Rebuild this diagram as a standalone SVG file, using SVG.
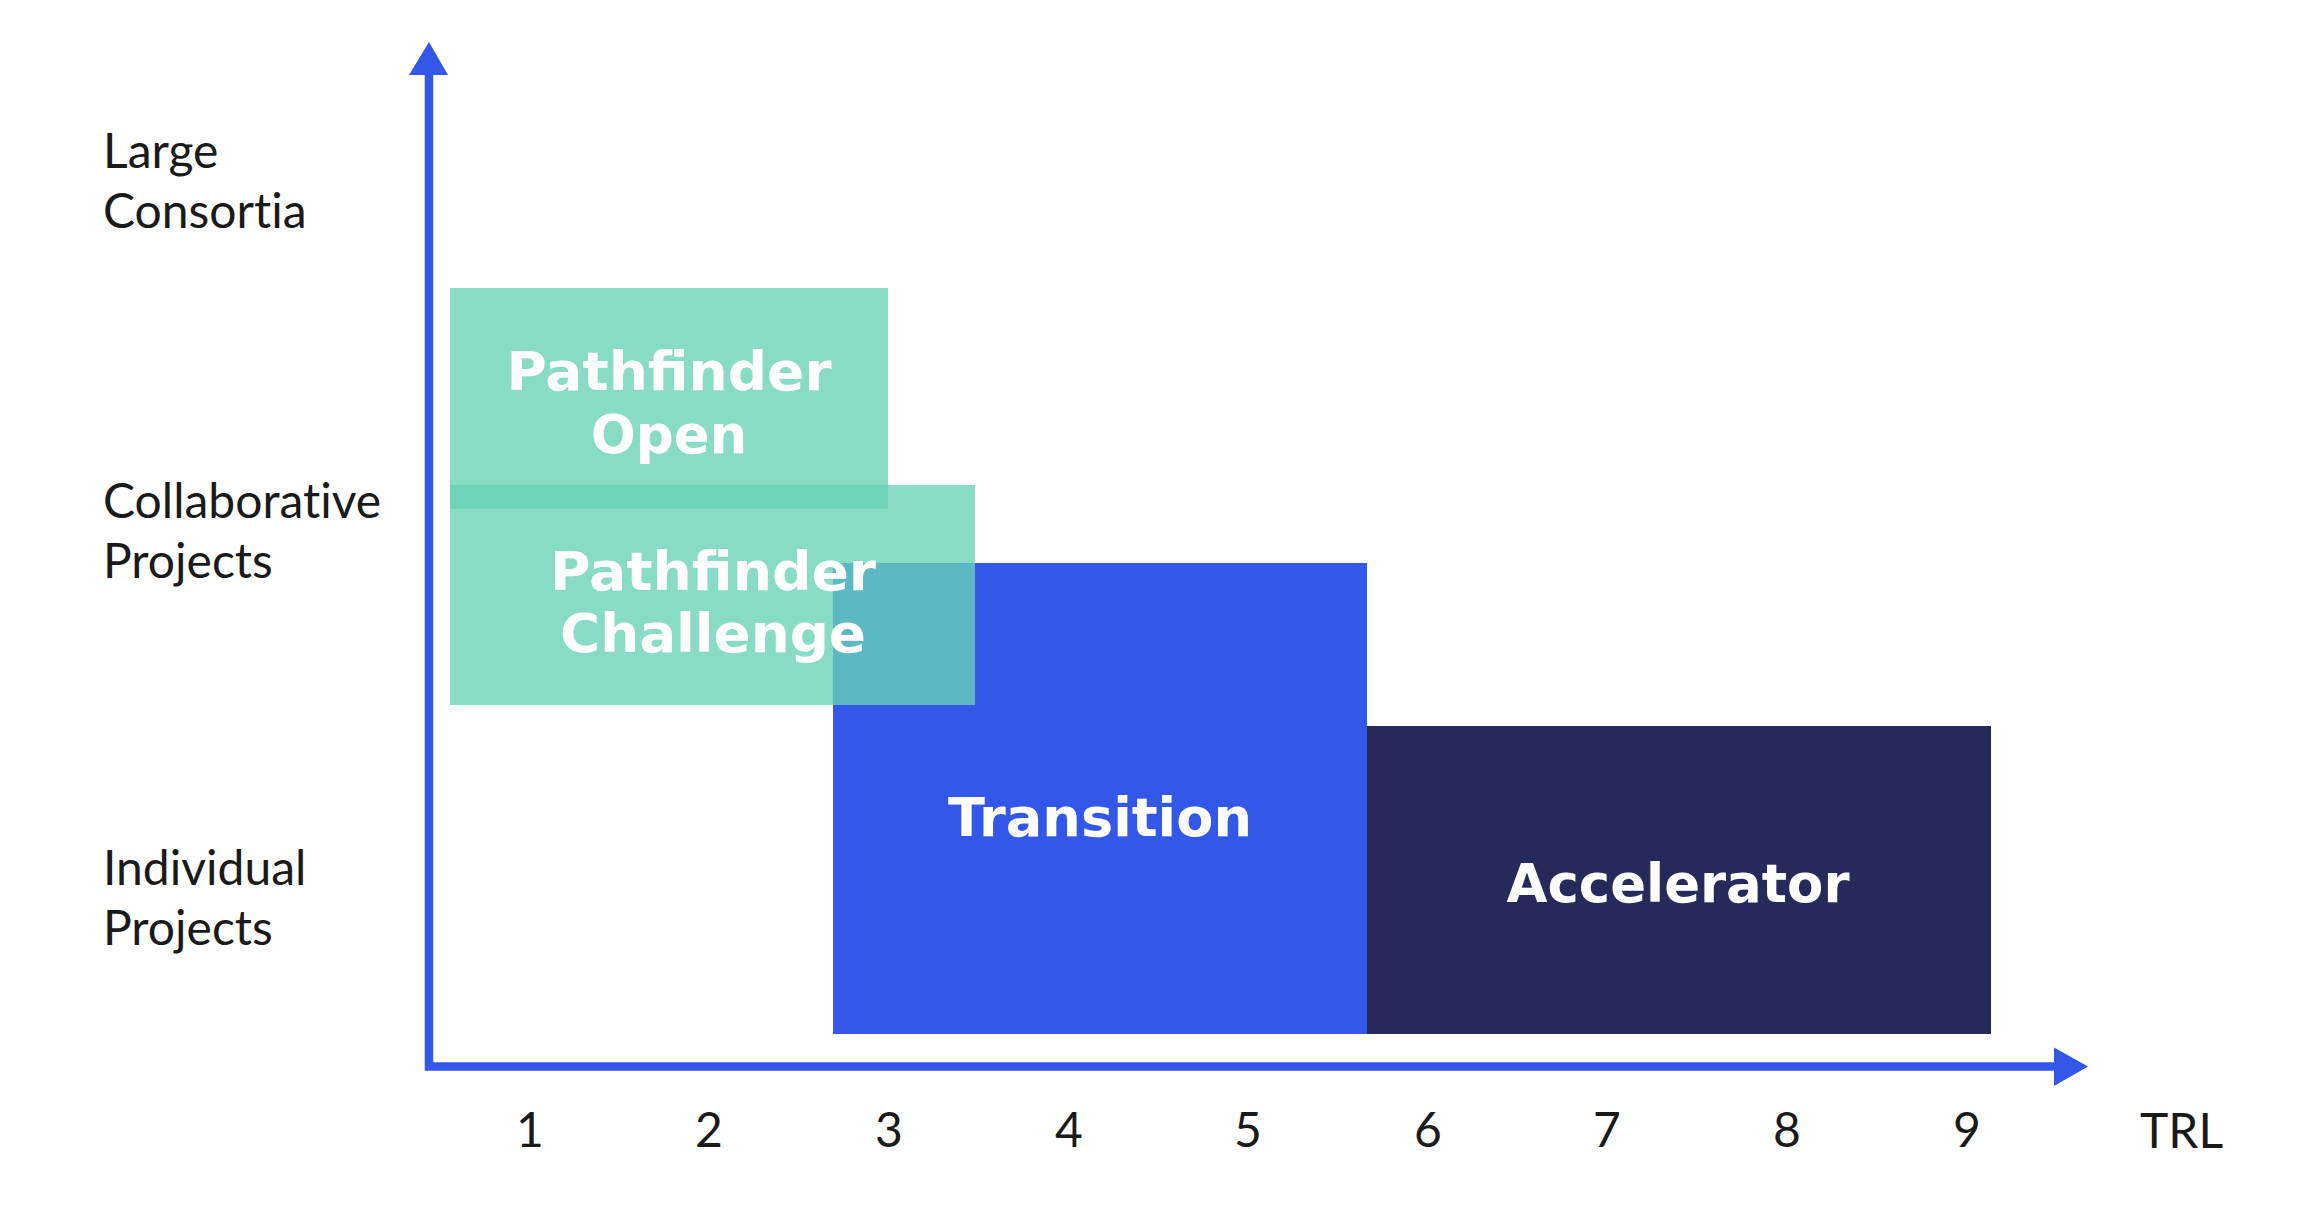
<svg xmlns="http://www.w3.org/2000/svg" width="2305" height="1214" viewBox="0 0 2305 1214">
<style>
.axis{fill:none;stroke:#3357E9;stroke-width:8.5}
.lbl{font-family:Lato,"Open Sans",sans-serif;font-size:48px;fill:#1a1a1a;font-weight:400;font-variant-ligatures:none}
.num{font-family:Lato,"Open Sans",sans-serif;font-size:48px;fill:#1a1a1a;text-anchor:middle}
.box{font-family:"DejaVu Sans","Open Sans",sans-serif;font-weight:700;font-size:53px;fill:#ffffff;text-anchor:middle}
.green{fill:#68D3B7;fill-opacity:0.79}
</style>
<rect width="2305" height="1214" fill="#ffffff"/>
<g id="transition">
<rect x="833" y="563" width="534" height="471" fill="#3357E9"/>
<text class="box" x="1100" y="836" textLength="304" lengthAdjust="spacingAndGlyphs">Transition</text>
</g>
<g id="accelerator">
<rect x="1367" y="726" width="624" height="308" fill="#252A5A"/>
<text class="box" x="1678" y="902" textLength="343" lengthAdjust="spacingAndGlyphs">Accelerator</text>
</g>
<g id="pathfinder-open">
<rect class="green" x="450" y="288" width="438" height="221"/>
<text class="box" x="669" y="390" textLength="325" lengthAdjust="spacingAndGlyphs">Pathfinder</text>
<text class="box" x="669" y="453">Open</text>
</g>
<g id="pathfinder-challenge">
<rect class="green" x="450" y="485" width="525" height="220"/>
<text class="box" x="713" y="590" textLength="326" lengthAdjust="spacingAndGlyphs">Pathfinder</text>
<text class="box" x="713" y="652" textLength="306" lengthAdjust="spacingAndGlyphs">Challenge</text>
</g>
<g id="connectors">
<path class="axis" d="M429,72 V1066.5 H2058"/>
<polygon points="429,42 448,75 409,75" fill="#3357E9"/>
<polygon points="2088,1066.5 2054,1047.5 2054,1086" fill="#3357E9"/>
</g>
<g id="y-labels">
<text class="lbl" x="103" y="168">Large</text>
<text class="lbl" x="103" y="228">Consortia</text>
<text class="lbl" x="103" y="518">Collaborative</text>
<text class="lbl" x="103" y="578">Projects</text>
<text class="lbl" x="103" y="885">Individual</text>
<text class="lbl" x="103" y="945">Projects</text>
</g>
<g id="x-labels">
<text class="num" x="530" y="1147">1</text>
<text class="num" x="709" y="1147">2</text>
<text class="num" x="889" y="1147">3</text>
<text class="num" x="1069" y="1147">4</text>
<text class="num" x="1248" y="1147">5</text>
<text class="num" x="1428" y="1147">6</text>
<text class="num" x="1607" y="1147">7</text>
<text class="num" x="1787" y="1147">8</text>
<text class="num" x="1967" y="1147">9</text>
<text class="lbl" x="2140" y="1148">TRL</text>
</g>
</svg>
